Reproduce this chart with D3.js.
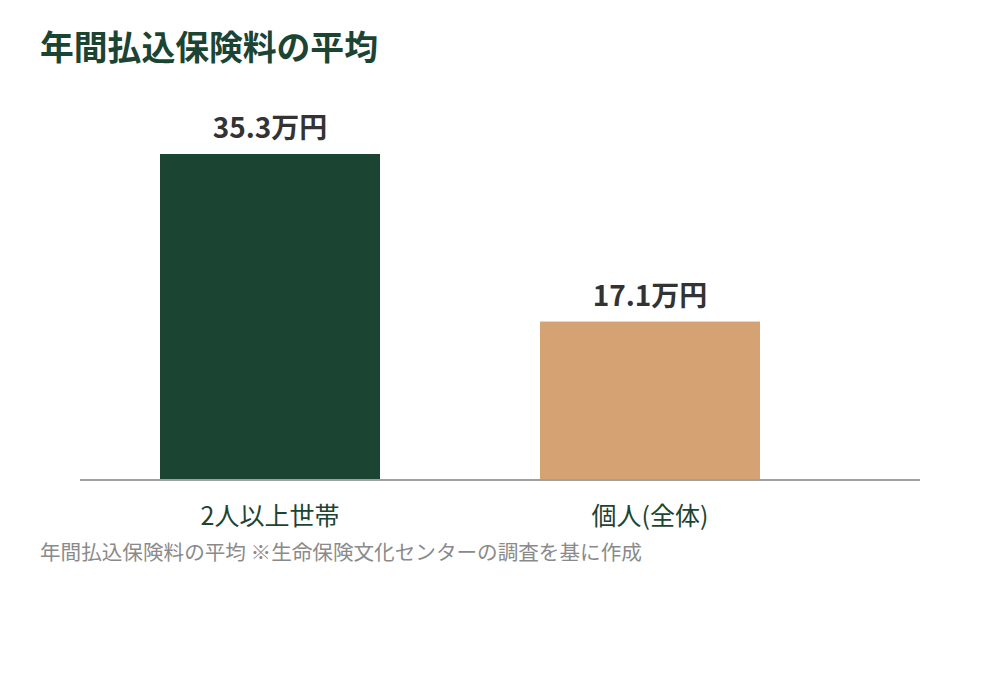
<!DOCTYPE html>
<html lang="ja">
<head>
<meta charset="utf-8">
<script src="https://cdn.jsdelivr.net/npm/d3@7"></script>
<style>
  body { margin: 0; background: #fff; }
  svg { display: block; font-family: "Noto Sans CJK JP", "Noto Sans", sans-serif; }
</style>
</head>
<body>
<svg id="chart" width="1000" height="680"></svg>
<script>
// data
const categories = ['2人以上世帯', '個人(全体)'];
const values = [35.3, 17.1];
const valueLabels = ['35.3万円', '17.1万円'];
const barColors = ['#1c4433', '#d4a273'];

const svg = d3.select('#chart');
const baseY = 479;

const x = d3.scaleBand()
    .domain(categories)
    .range([80, 840])
    .paddingInner(160 / 380)
    .paddingOuter(80 / 380);

const y = d3.scaleLinear()
    .domain([0, 35.3])
    .range([baseY, 154]);

// title
svg.append('text')
    .attr('x', 40)
    .attr('y', 60)
    .attr('fill', '#1c4433')
    .attr('font-size', 33.8)
    .attr('font-weight', 700)
    .text('年間払込保険料の平均');

const data = categories.map((c, i) => ({ c, v: values[i], label: valueLabels[i], color: barColors[i] }));

svg.append('g')
    .selectAll('rect')
    .data(data)
    .enter()
    .append('rect')
    .attr('x', d => x(d.c))
    .attr('y', d => y(d.v))
    .attr('width', x.bandwidth())
    .attr('height', d => baseY - y(d.v))
    .attr('fill', d => d.color);

svg.append('g')
    .selectAll('text')
    .data(data)
    .enter()
    .append('text')
    .attr('x', d => x(d.c) + x.bandwidth() / 2)
    .attr('y', d => y(d.v) - 16)
    .attr('text-anchor', 'middle')
    .attr('fill', '#333')
    .attr('font-size', 28)
    .attr('font-weight', 600)
    .text(d => d.label);

// baseline
svg.append('line')
    .attr('x1', 80)
    .attr('x2', 920)
    .attr('y1', baseY + 1)
    .attr('y2', baseY + 1)
    .attr('stroke', '#a0a0a0')
    .attr('stroke-width', 2);

// category labels
svg.append('g')
    .selectAll('text')
    .data(categories)
    .enter()
    .append('text')
    .attr('x', d => x(d) + x.bandwidth() / 2)
    .attr('y', 525)
    .attr('text-anchor', 'middle')
    .attr('fill', '#1c4433')
    .attr('font-size', 25)
    .text(d => d);

// source note
svg.append('text')
    .attr('x', 40)
    .attr('y', 560)
    .attr('fill', '#8a8a8a')
    .attr('font-size', 20.6)
    .text('年間払込保険料の平均 ※生命保険文化センターの調査を基に作成');
</script>
</body>
</html>
